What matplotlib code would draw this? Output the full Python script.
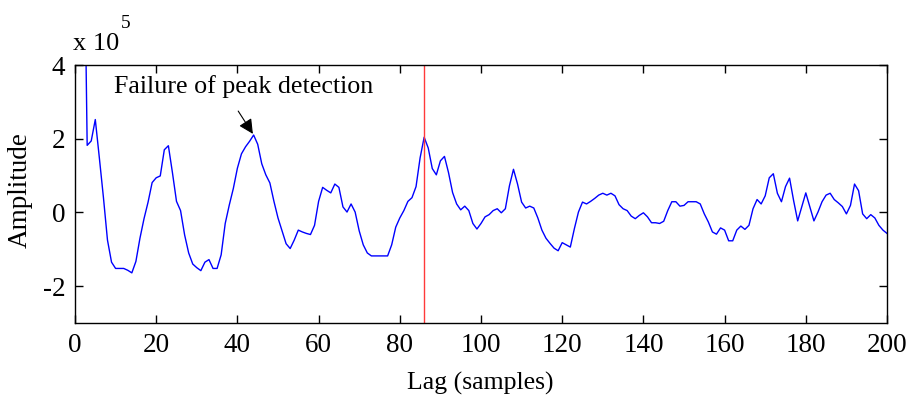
import matplotlib
matplotlib.use("Agg")
import matplotlib.pyplot as plt
import numpy as np

# autocorrelation amplitude (x 10^5) at lags 0..200
lags = np.arange(0, 201)
amplitude = [
    30, 20, 10, 1.82, 1.94, 2.52, 1.48, 0.41, -0.75, -1.35,
    -1.52, -1.52, -1.52, -1.57, -1.64, -1.33, -0.70, -0.17, 0.28, 0.81,
    0.94, 0.99, 1.70, 1.81, 1.08, 0.30, 0.05, -0.61, -1.10, -1.40,
    -1.50, -1.58, -1.35, -1.28, -1.52, -1.52, -1.15, -0.30, 0.20, 0.65,
    1.20, 1.59, 1.78, 1.93, 2.10, 1.85, 1.32, 1.02, 0.80, 0.30,
    -0.15, -0.50, -0.85, -0.98, -0.75, -0.48, -0.53, -0.57, -0.60, -0.35,
    0.30, 0.68, 0.60, 0.53, 0.77, 0.68, 0.15, 0.01, 0.23, 0.01,
    -0.50, -0.88, -1.10, -1.18, -1.18, -1.18, -1.18, -1.18, -0.88, -0.40,
    -0.15, 0.05, 0.30, 0.40, 0.70, 1.48, 2.04, 1.75, 1.19, 1.02,
    1.40, 1.52, 1.08, 0.54, 0.23, 0.07, 0.17, 0.05, -0.30, -0.45,
    -0.30, -0.12, -0.06, 0.05, 0.10, -0.01, 0.10, 0.72, 1.17, 0.77,
    0.28, 0.12, 0.17, 0.12, -0.15, -0.48, -0.70, -0.84, -0.97, -1.04,
    -0.82, -0.88, -0.94, -0.44, 0.01, 0.28, 0.23, 0.30, 0.38, 0.47,
    0.52, 0.47, 0.52, 0.45, 0.21, 0.10, 0.05, -0.10, -0.17, -0.08,
    -0.01, -0.12, -0.28, -0.28, -0.30, -0.24, 0.05, 0.29, 0.29, 0.17,
    0.19, 0.29, 0.29, 0.29, 0.23, -0.04, -0.26, -0.53, -0.59, -0.42,
    -0.48, -0.77, -0.77, -0.48, -0.37, -0.46, -0.35, 0.10, 0.35, 0.23,
    0.45, 0.94, 1.05, 0.52, 0.29, 0.70, 0.93, 0.32, -0.23, 0.15,
    0.53, 0.15, -0.23, 0.01, 0.29, 0.47, 0.52, 0.35, 0.26, 0.16,
    -0.04, 0.19, 0.77, 0.59, -0.04, -0.17, -0.06, -0.15, -0.35, -0.48, -0.57,
]

detected_lag = 86
failed_peak = (44, 2.10)
arrow_start = (40.2, 2.75)
label_pos = (9.6, 3.42)
x_ticks = [0, 20, 40, 60, 80, 100, 120, 140, 160, 180, 200]
y_ticks = [-2, 0, 2, 4]

plt.rcParams['font.family'] = ['Liberation Serif', 'DejaVu Serif']
plt.rcParams['axes.unicode_minus'] = False

fig = plt.figure(figsize=(9.09, 4.05), dpi=100)
ax = fig.add_axes([0.0825, 0.2025, 0.8933, 0.637])

ax.plot(lags, amplitude, color='#0000ff', linewidth=1)
ax.axvline(detected_lag, color='#ff3a3a', linewidth=1)

ax.set_xlim(0, 200)
ax.set_ylim(-3, 4)
ax.set_xticks(x_ticks)
ax.set_yticks(y_ticks)
ax.tick_params(direction='in', top=True, right=True, length=6, width=1,
               labelsize=19.5, pad=7)
for s in ax.spines.values():
    s.set_linewidth(1)

ax.set_xlabel("Lag (samples)", fontsize=18.5)
ax.set_ylabel("Amplitude", fontsize=19.5)
ax.xaxis.set_label_coords(0.499, -0.19)
ax.yaxis.set_label_coords(-0.052, 0.515)

# exponent label like MATLAB
fig.text(0.080, 0.877, "x 10", fontsize=19, ha='left', va='baseline')
fig.text(0.133, 0.932, "5", fontsize=14, ha='left', va='baseline')

ax.text(label_pos[0], label_pos[1], "Failure of peak detection",
        fontsize=18.7, ha='left', va='center')
ax.annotate("", xy=failed_peak, xytext=arrow_start,
            arrowprops=dict(arrowstyle='-|>', color='black', lw=0.8,
                            mutation_scale=22, shrinkA=0, shrinkB=1))

fig.savefig("out.png", dpi=100)
